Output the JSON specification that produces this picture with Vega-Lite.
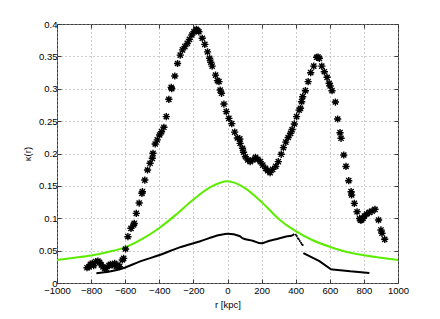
{
  "$schema": "https://vega.github.io/schema/vega-lite/v6.json",
  "width": 341,
  "height": 259,
  "autosize": {"type": "none"},
  "padding": {"left": 57, "top": 24, "right": 42, "bottom": 36},
  "background": "white",
  "config": {
    "view": {"stroke": "#3a3a3a", "strokeWidth": 1},
    "font": "Liberation Sans",
    "axis": {
      "labelFont": "Liberation Sans",
      "titleFont": "Liberation Sans",
      "labelFontSize": 9.5,
      "titleFontSize": 9.5,
      "titleFontWeight": "normal",
      "labelColor": "#000",
      "titleColor": "#000",
      "labelFlush": false,
      "labelOverlap": false,
      "domain": false,
      "tickColor": "#3a3a3a",
      "tickSize": -4,
      "gridColor": "#9a9a9a",
      "gridDash": [1, 3],
      "gridOpacity": 1,
      "gridWidth": 1
    }
  },
  "data": {
    "values": [
      {"s": "green", "r": -1000, "k": 0.0355},
      {"s": "green", "r": -900, "k": 0.039},
      {"s": "green", "r": -800, "k": 0.0425},
      {"s": "green", "r": -700, "k": 0.048},
      {"s": "green", "r": -600, "k": 0.055},
      {"s": "green", "r": -500, "k": 0.068},
      {"s": "green", "r": -400, "k": 0.085},
      {"s": "green", "r": -300, "k": 0.106},
      {"s": "green", "r": -200, "k": 0.129},
      {"s": "green", "r": -100, "k": 0.148},
      {"s": "green", "r": 0, "k": 0.157},
      {"s": "green", "r": 100, "k": 0.147},
      {"s": "green", "r": 200, "k": 0.125},
      {"s": "green", "r": 300, "k": 0.099},
      {"s": "green", "r": 400, "k": 0.08},
      {"s": "green", "r": 500, "k": 0.066},
      {"s": "green", "r": 600, "k": 0.056},
      {"s": "green", "r": 700, "k": 0.048},
      {"s": "green", "r": 800, "k": 0.043},
      {"s": "green", "r": 900, "k": 0.039},
      {"s": "green", "r": 1000, "k": 0.0355},

      {"s": "b1", "r": -769, "k": 0.015},
      {"s": "b1", "r": -691, "k": 0.0178},
      {"s": "b1", "r": -613, "k": 0.0227},
      {"s": "b1", "r": -516, "k": 0.033},
      {"s": "b1", "r": -398, "k": 0.0432},
      {"s": "b1", "r": -281, "k": 0.055},
      {"s": "b1", "r": -164, "k": 0.064},
      {"s": "b1", "r": -47, "k": 0.0741},
      {"s": "b1", "r": 2, "k": 0.0762},
      {"s": "b1", "r": 70, "k": 0.0726},
      {"s": "b1", "r": 90, "k": 0.069},
      {"s": "b1", "r": 148, "k": 0.0653},
      {"s": "b1", "r": 197, "k": 0.0613},
      {"s": "b1", "r": 246, "k": 0.0653},
      {"s": "b1", "r": 285, "k": 0.0675},
      {"s": "b1", "r": 305, "k": 0.069},
      {"s": "b1", "r": 363, "k": 0.0726},
      {"s": "b1", "r": 373, "k": 0.0728},
      {"s": "b1", "r": 392, "k": 0.0757},

      {"s": "bdots", "r": 400, "k": 0.0745},
      {"s": "bdots", "r": 406, "k": 0.0726},
      {"s": "bdots", "r": 412, "k": 0.069},
      {"s": "bdots", "r": 418, "k": 0.0675},
      {"s": "bdots", "r": 424, "k": 0.065},
      {"s": "bdots", "r": 431, "k": 0.0622},
      {"s": "bdots", "r": 436, "k": 0.06},
      {"s": "bdots", "r": 441, "k": 0.0587},

      {"s": "b2", "r": 445, "k": 0.0463},
      {"s": "b2", "r": 539, "k": 0.0338},
      {"s": "b2", "r": 607, "k": 0.0212},
      {"s": "b2", "r": 617, "k": 0.021},
      {"s": "b2", "r": 720, "k": 0.018},
      {"s": "b2", "r": 832, "k": 0.0155},

      {"s": "star", "r": -824, "k": 0.0236},
      {"s": "star", "r": -812, "k": 0.0247},
      {"s": "star", "r": -804, "k": 0.0289},
      {"s": "star", "r": -793, "k": 0.0304},
      {"s": "star", "r": -785, "k": 0.0267},
      {"s": "star", "r": -773, "k": 0.0329},
      {"s": "star", "r": -760, "k": 0.034},
      {"s": "star", "r": -750, "k": 0.032},
      {"s": "star", "r": -740, "k": 0.0278},
      {"s": "star", "r": -730, "k": 0.0247},
      {"s": "star", "r": -720, "k": 0.0227},
      {"s": "star", "r": -711, "k": 0.0227},
      {"s": "star", "r": -695, "k": 0.0267},
      {"s": "star", "r": -687, "k": 0.0289},
      {"s": "star", "r": -676, "k": 0.0278},
      {"s": "star", "r": -662, "k": 0.0304},
      {"s": "star", "r": -652, "k": 0.0252},
      {"s": "star", "r": -643, "k": 0.0278},
      {"s": "star", "r": -633, "k": 0.0252},
      {"s": "star", "r": -617, "k": 0.0355},
      {"s": "star", "r": -609, "k": 0.0381},
      {"s": "star", "r": -598, "k": 0.0525},
      {"s": "star", "r": -584, "k": 0.0715},
      {"s": "star", "r": -566, "k": 0.0845},
      {"s": "star", "r": -551, "k": 0.0896},
      {"s": "star", "r": -547, "k": 0.092},
      {"s": "star", "r": -535, "k": 0.1076},
      {"s": "star", "r": -518, "k": 0.1235},
      {"s": "star", "r": -502, "k": 0.1385},
      {"s": "star", "r": -499, "k": 0.141},
      {"s": "star", "r": -485, "k": 0.159},
      {"s": "star", "r": -469, "k": 0.1745},
      {"s": "star", "r": -454, "k": 0.1849},
      {"s": "star", "r": -441, "k": 0.1926},
      {"s": "star", "r": -437, "k": 0.2003},
      {"s": "star", "r": -424, "k": 0.2147},
      {"s": "star", "r": -412, "k": 0.221},
      {"s": "star", "r": -398, "k": 0.2286},
      {"s": "star", "r": -387, "k": 0.2337},
      {"s": "star", "r": -373, "k": 0.2405},
      {"s": "star", "r": -359, "k": 0.257},
      {"s": "star", "r": -344, "k": 0.2837},
      {"s": "star", "r": -330, "k": 0.3022},
      {"s": "star", "r": -327, "k": 0.3},
      {"s": "star", "r": -309, "k": 0.3197},
      {"s": "star", "r": -293, "k": 0.339},
      {"s": "star", "r": -277, "k": 0.352},
      {"s": "star", "r": -264, "k": 0.36},
      {"s": "star", "r": -250, "k": 0.365},
      {"s": "star", "r": -236, "k": 0.37},
      {"s": "star", "r": -223, "k": 0.3763},
      {"s": "star", "r": -209, "k": 0.383},
      {"s": "star", "r": -197, "k": 0.388},
      {"s": "star", "r": -183, "k": 0.3918},
      {"s": "star", "r": -175, "k": 0.39},
      {"s": "star", "r": -168, "k": 0.388},
      {"s": "star", "r": -148, "k": 0.378},
      {"s": "star", "r": -133, "k": 0.3686},
      {"s": "star", "r": -117, "k": 0.357},
      {"s": "star", "r": -105, "k": 0.347},
      {"s": "star", "r": -98, "k": 0.341},
      {"s": "star", "r": -90, "k": 0.335},
      {"s": "star", "r": -70, "k": 0.321},
      {"s": "star", "r": -59, "k": 0.3125},
      {"s": "star", "r": -50, "k": 0.311},
      {"s": "star", "r": -43, "k": 0.298},
      {"s": "star", "r": -35, "k": 0.293},
      {"s": "star", "r": -21, "k": 0.2764},
      {"s": "star", "r": -7, "k": 0.2646},
      {"s": "star", "r": 8, "k": 0.2543},
      {"s": "star", "r": 25, "k": 0.2461},
      {"s": "star", "r": 42, "k": 0.233},
      {"s": "star", "r": 58, "k": 0.224},
      {"s": "star", "r": 72, "k": 0.2225},
      {"s": "star", "r": 74, "k": 0.2157},
      {"s": "star", "r": 88, "k": 0.208},
      {"s": "star", "r": 94, "k": 0.202},
      {"s": "star", "r": 105, "k": 0.195},
      {"s": "star", "r": 119, "k": 0.19},
      {"s": "star", "r": 133, "k": 0.1874},
      {"s": "star", "r": 148, "k": 0.19},
      {"s": "star", "r": 164, "k": 0.194},
      {"s": "star", "r": 178, "k": 0.191},
      {"s": "star", "r": 193, "k": 0.1874},
      {"s": "star", "r": 207, "k": 0.182},
      {"s": "star", "r": 223, "k": 0.177},
      {"s": "star", "r": 236, "k": 0.1734},
      {"s": "star", "r": 250, "k": 0.1704},
      {"s": "star", "r": 265, "k": 0.1755},
      {"s": "star", "r": 283, "k": 0.18},
      {"s": "star", "r": 298, "k": 0.1875},
      {"s": "star", "r": 315, "k": 0.1988},
      {"s": "star", "r": 328, "k": 0.209},
      {"s": "star", "r": 342, "k": 0.2175},
      {"s": "star", "r": 356, "k": 0.2247},
      {"s": "star", "r": 370, "k": 0.2312},
      {"s": "star", "r": 379, "k": 0.237},
      {"s": "star", "r": 392, "k": 0.2456},
      {"s": "star", "r": 405, "k": 0.257},
      {"s": "star", "r": 420, "k": 0.267},
      {"s": "star", "r": 428, "k": 0.2698},
      {"s": "star", "r": 435, "k": 0.28},
      {"s": "star", "r": 441, "k": 0.2877},
      {"s": "star", "r": 457, "k": 0.297},
      {"s": "star", "r": 473, "k": 0.311},
      {"s": "star", "r": 488, "k": 0.3248},
      {"s": "star", "r": 506, "k": 0.335},
      {"s": "star", "r": 523, "k": 0.3486},
      {"s": "star", "r": 531, "k": 0.349},
      {"s": "star", "r": 539, "k": 0.347},
      {"s": "star", "r": 553, "k": 0.335},
      {"s": "star", "r": 568, "k": 0.3263},
      {"s": "star", "r": 584, "k": 0.3177},
      {"s": "star", "r": 596, "k": 0.3084},
      {"s": "star", "r": 602, "k": 0.3043},
      {"s": "star", "r": 613, "k": 0.297},
      {"s": "star", "r": 633, "k": 0.2795},
      {"s": "star", "r": 646, "k": 0.2533},
      {"s": "star", "r": 660, "k": 0.2321},
      {"s": "star", "r": 666, "k": 0.2235},
      {"s": "star", "r": 682, "k": 0.1977},
      {"s": "star", "r": 695, "k": 0.18},
      {"s": "star", "r": 711, "k": 0.158},
      {"s": "star", "r": 725, "k": 0.141},
      {"s": "star", "r": 728, "k": 0.136},
      {"s": "star", "r": 744, "k": 0.123},
      {"s": "star", "r": 760, "k": 0.11},
      {"s": "star", "r": 775, "k": 0.0995},
      {"s": "star", "r": 780, "k": 0.097},
      {"s": "star", "r": 787, "k": 0.0973},
      {"s": "star", "r": 795, "k": 0.1},
      {"s": "star", "r": 803, "k": 0.1035},
      {"s": "star", "r": 816, "k": 0.1066},
      {"s": "star", "r": 832, "k": 0.109},
      {"s": "star", "r": 848, "k": 0.111},
      {"s": "star", "r": 865, "k": 0.1138},
      {"s": "star", "r": 886, "k": 0.0973},
      {"s": "star", "r": 900, "k": 0.0819},
      {"s": "star", "r": 906, "k": 0.0768},
      {"s": "star", "r": 922, "k": 0.0675}
    ]
  },
  "encoding": {
    "x": {"field": "r", "type": "quantitative", "scale": {"domain": [-1000, 1000], "nice": false, "zero": false}, "axis": null},
    "y": {"field": "k", "type": "quantitative", "scale": {"domain": [0, 0.4], "nice": false}, "axis": null}
  },
  "layer": [
    {
      "transform": [{"filter": "datum.s === 'green'"}],
      "mark": {"type": "line", "color": "#5cec00", "strokeWidth": 2, "interpolate": "monotone"},
      "encoding": {
        "x": {"field": "r", "type": "quantitative", "scale": {"domain": [-1000, 1000], "nice": false, "zero": false},
          "axis": {"orient": "bottom", "values": [-1000, -800, -600, -400, -200, 0, 200, 400, 600, 800, 1000], "format": "d", "title": "r [kpc]", "grid": true, "labelPadding": 6, "titleY": 21, "titleBaseline": "middle"}},
        "y": {"field": "k", "type": "quantitative", "scale": {"domain": [0, 0.4], "nice": false},
          "axis": {"orient": "left", "values": [0, 0.05, 0.1, 0.15, 0.2, 0.25, 0.3, 0.35, 0.4], "format": "~g", "title": "κ(r)", "grid": true, "labelPadding": 4, "titleX": -30, "titleY": 129.5, "titleAngle": 270, "titleBaseline": "middle", "titleAlign": "center"}}
      }
    },
    {
      "transform": [{"filter": "datum.s === 'b1'"}],
      "mark": {"type": "line", "color": "#000", "strokeWidth": 2, "interpolate": "monotone"}
    },
    {
      "transform": [{"filter": "datum.s === 'b2'"}],
      "mark": {"type": "line", "color": "#000", "strokeWidth": 2}
    },
    {
      "transform": [{"filter": "datum.s === 'bdots'"}],
      "mark": {"type": "circle", "color": "#000", "size": 4, "opacity": 1}
    },
    {
      "transform": [{"filter": "datum.s === 'star'"}],
      "mark": {"type": "point", "shape": "M-1,0L1,0M0,-1L0,1M-0.72,-0.72L0.72,0.72M-0.72,0.72L0.72,-0.72", "filled": false, "stroke": "#000", "strokeWidth": 1.4, "size": 52, "opacity": 1},
      "encoding": {
        "x": {"field": "r", "type": "quantitative", "scale": {"domain": [-1000, 1000], "nice": false, "zero": false},
          "axis": {"orient": "top", "values": [-1000, -800, -600, -400, -200, 0, 200, 400, 600, 800, 1000], "labels": false, "title": null, "grid": false}},
        "y": {"field": "k", "type": "quantitative", "scale": {"domain": [0, 0.4], "nice": false},
          "axis": {"orient": "right", "values": [0, 0.05, 0.1, 0.15, 0.2, 0.25, 0.3, 0.35, 0.4], "labels": false, "title": null, "grid": false}}
      }
    }
  ],
  "resolve": {"axis": {"x": "independent", "y": "independent"}}
}
